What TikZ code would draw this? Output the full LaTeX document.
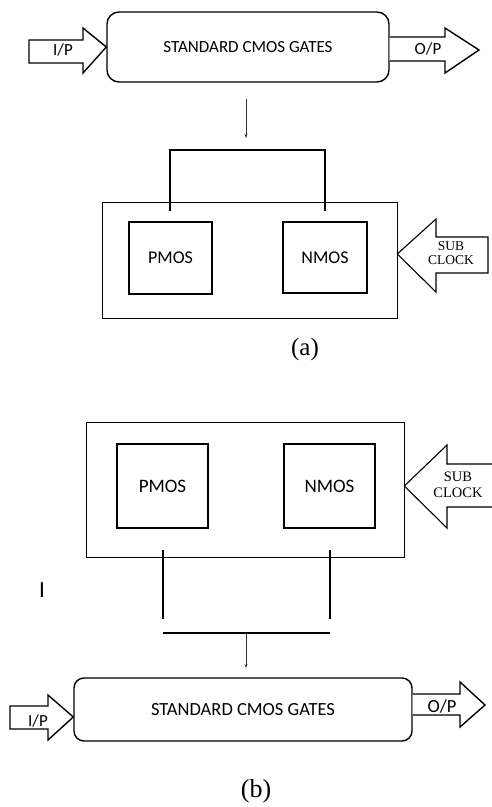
\documentclass[tikz,border=0pt]{standalone}
\usepackage{fontspec}
\setmainfont{Liberation Serif}
\newfontfamily\calib{Carlito}
\usetikzlibrary{arrows.meta}
\tikzset{
  gatebox/.style={draw, line width=1.4pt, rounded corners=12pt, font=\calib\fontsize{17}{19}\selectfont, inner sep=0pt},
  gatebox2/.style={draw, line width=1.4pt, rounded corners=10pt, font=\calib\fontsize{18.5}{20}\selectfont, inner sep=0pt},
  outerbox/.style={draw, line width=0.6pt, inner sep=0pt},
  mosbox/.style={draw, line width=1.8pt, inner sep=0pt, font=\calib\fontsize{18}{20}\selectfont},
  blockarrow/.style={draw, line width=1.4pt, line join=miter, fill=white},
  clockarrow/.style={draw, line width=1.1pt, line join=miter, fill=white},
  iolabel/.style={font=\calib\fontsize{17}{19}\selectfont, inner sep=0pt},
  clklabel/.style={font=\fontsize{13.5}{14}\selectfont, align=center, inner sep=0pt},
  wire/.style={line width=1.6pt},
  thinarrow/.style={line width=0.6pt, draw=black!80, -{Stealth[length=4pt,width=3pt]}},
  caption/.style={font=\fontsize{25}{28}\selectfont, inner sep=0pt}
}
\begin{document}
\begin{tikzpicture}[x=1pt,y=-1pt]
\useasboundingbox (0,0) rectangle (492,807);

% ---------------- (a) ----------------
\node[gatebox, minimum width=282pt, minimum height=70pt] (ga) at (248,47) {STANDARD CMOS GATES};
% I/P arrow
\draw[blockarrow] (29,40) -- (83,40) -- (83,28) -- (ga.west) -- (83,73) -- (83,63) -- (29,63) -- cycle;
\node[iolabel] (ipa) at (63,50) {I/P};
% O/P arrow
\draw[blockarrow] (ga.east |- 0,37) -- (445,37) -- (445,28) -- (479,50) -- (445,73) -- (445,61) -- (ga.east |- 0,61);
\node[iolabel] (opa) at (428,49) {O/P};

\node[outerbox, minimum width=295pt, minimum height=116pt] (oa) at (249.5,260) {};
\node[mosbox, minimum width=83pt, minimum height=72pt] (pa) at (170.5,258) {PMOS};
\node[mosbox, minimum width=84pt, minimum height=71pt] (na) at (325,257.5) {NMOS};
\coordinate (pat) at (170,211);
\coordinate (nat) at (325,211);
\coordinate (bra) at (247,150);
\draw[wire] (pat) -- (pat |- bra) -- (nat |- bra) -- (nat);
\draw[thinarrow] (246,99) -- (246,138);
% sub clock (a)
\draw[clockarrow] (oa.east |- 0,254) -- (436,219) -- (436,237) -- (488,237) -- (488,273) -- (436,273) -- (436,292) -- cycle;
\node[clklabel] (ca) at (451,253.5) {SUB\\CLOCK};
\node[caption] (capa) at (305,349) {(a)};

% ---------------- (b) ----------------
\node[outerbox, minimum width=318pt, minimum height=135pt] (ob) at (245,489.5) {};
\node[mosbox, minimum width=91pt, minimum height=84pt, font=\calib\fontsize{19}{21}\selectfont] (pb) at (162.5,486) {PMOS};
\node[mosbox, minimum width=91pt, minimum height=84pt, font=\calib\fontsize{19}{21}\selectfont] (nb) at (329.5,486) {NMOS};
% sub clock (b)
\draw[clockarrow] (492,464) -- (447,464) -- (447,445) -- (ob.east |- 0,486) -- (447,528) -- (447,507) -- (492,507);
\node[clklabel, font=\fontsize{14.5}{16}\selectfont] (cb) at (458,485) {SUB\\CLOCK};
% wires
\coordinate (pbb) at (163,550);
\coordinate (nbb) at (330,550);
\draw[wire] (pbb) -- (163,619);
\draw[wire] (nbb) -- (330,619);
\coordinate (barl) at (163,633);
\coordinate (barr) at (330,633);
\draw[line width=2.2pt] (barl) -- (barr);
\node[font=\calib\fontsize{23}{25}\selectfont, inner sep=0pt] (stray) at (42,590) {I};

\node[gatebox2, minimum width=338pt, minimum height=63pt] (gb) at (243,709.5) {STANDARD CMOS GATES};
\draw[thinarrow] (246,633) -- (246,668);
% I/P (b)
\draw[blockarrow] (10,706) -- (48,706) -- (48,695) -- (gb.west |- 0,717) -- (48,740) -- (48,729) -- (10,729) -- cycle;
\node[iolabel] (ipb) at (38,721) {I/P};
% O/P (b)
\draw[blockarrow] (gb.east |- 0,694) -- (460,694) -- (460,682) -- (485,705) -- (460,727) -- (460,715) -- (gb.east |- 0,715);
\node[iolabel, font=\calib\fontsize{18.5}{20}\selectfont] (opb) at (442,706) {O/P};
\node[caption, font=\fontsize{26}{29}\selectfont] (capb) at (256,791) {(b)};
\end{tikzpicture}
\end{document}
